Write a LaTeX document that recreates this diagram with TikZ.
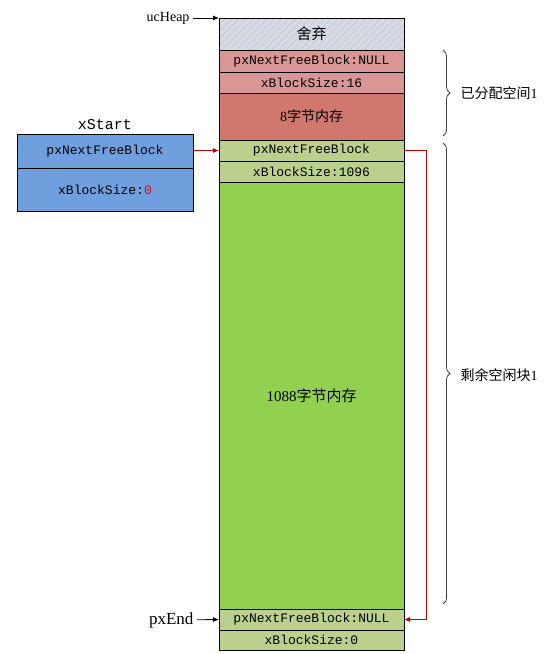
\documentclass[tikz,border=0pt]{standalone}
\usepackage{fontspec}
\setmainfont{Liberation Serif}
\newfontfamily\boxfont{Liberation Mono}
\newfontfamily\cjk{Noto Sans CJK SC}
\usetikzlibrary{positioning,patterns.meta,decorations.pathreplacing,arrows.meta}

\definecolor{hatchgray}{HTML}{D9DADF}
\definecolor{hatchblue}{HTML}{B4C7E7}
\definecolor{usedpink}{HTML}{D99694}
\definecolor{usedred}{HTML}{D1786E}
\definecolor{freehead}{HTML}{BCD08E}
\definecolor{freebody}{HTML}{92D050}
\definecolor{startblue}{HTML}{6F9FDC}
\definecolor{linkred}{HTML}{C00000}
\definecolor{bracegray}{HTML}{404040}

\begin{document}
\begin{tikzpicture}[x=1pt,y=-1pt,>={Latex[length=6pt,width=5pt]},node distance=0pt,
    row/.style={draw,line width=0.8pt,minimum width=185pt,inner sep=0pt,outer sep=0pt,
      font=\boxfont\fontsize{13}{15}\selectfont},
    startrow/.style={row,minimum width=176pt,fill=startblue},
    brc/.style={decorate,decoration={brace,amplitude=7pt},draw=bracegray,line width=0.8pt}]
  \useasboundingbox (0,0) rectangle (555,654);

  % heap column
  \node (discard) [row,anchor=north,minimum height=32pt,fill=hatchgray,
    postaction={pattern={Lines[angle=45,distance=5pt,line width=0.5pt]},pattern color=hatchblue},
    postaction={draw,line width=0.8pt}]
    at (311.5,18) {\cjk\fontsize{15}{17}\selectfont 舍弃};
  \node (nextA) [row,minimum height=22pt,fill=usedpink,below=of discard] {pxNextFreeBlock:NULL};
  \node (sizeA) [row,minimum height=21pt,fill=usedpink,below=of nextA] {xBlockSize:16};
  \node (memA) [row,minimum height=47pt,fill=usedred,below=of sizeA]
    {\fontsize{14}{16}\selectfont\rmfamily 8\cjk 字节内存};
  \node (nextB) [row,minimum height=21pt,fill=freehead,below=of memA] {pxNextFreeBlock};
  \node (sizeB) [row,minimum height=21pt,fill=freehead,below=of nextB] {xBlockSize:1096};
  \node (memB) [row,minimum height=427pt,fill=freebody,below=of sizeB]
    {\fontsize{15}{17}\selectfont\rmfamily 1088\cjk 字节内存};
  \node (nextEnd) [row,minimum height=21pt,fill=freehead,below=of memB] {pxNextFreeBlock:NULL};
  \node (sizeEnd) [row,minimum height=20pt,fill=freehead,below=of nextEnd] {xBlockSize:0};

  % xStart
  \node (startNext) [startrow,anchor=north,minimum height=34pt] at (105,134) {pxNextFreeBlock};
  \node (startSize) [startrow,minimum height=43pt,below=of startNext]
    {xBlockSize:\textcolor{red}{0}};
  \node (xstart) [above=1pt of startNext,font=\boxfont\fontsize{15}{17}\selectfont] {xStart};

  % pointers
  \node (ucheap) [anchor=east,font=\fontsize{14}{16}\selectfont] at (193,18) {ucHeap};
  \node (pxend) [anchor=east,font=\fontsize{17}{19}\selectfont] at (197,620) {pxEnd};
  \draw[->,line width=0.8pt] (ucheap) -- (discard.north west);
  \draw[->,line width=0.8pt] (pxend) -- (nextEnd.west);
  \draw[->,linkred,line width=0.8pt] (startNext) -- (nextB.west);
  \draw[->,linkred,line width=0.8pt] (nextB.east) -- ++(22,0) |- (nextEnd.east);

  % braces
  \draw[brc] (443,50) -- (443,136);
  \draw[brc] (443,143) -- (443,604);
  \node (used) [anchor=west,font=\fontsize{14}{16}\selectfont] at (457,93)
    {\cjk 已分配空间\rmfamily 1};
  \node (free) [anchor=west,font=\fontsize{14}{16}\selectfont] at (457,375)
    {\cjk 剩余空闲块\rmfamily 1};
\end{tikzpicture}
\end{document}
